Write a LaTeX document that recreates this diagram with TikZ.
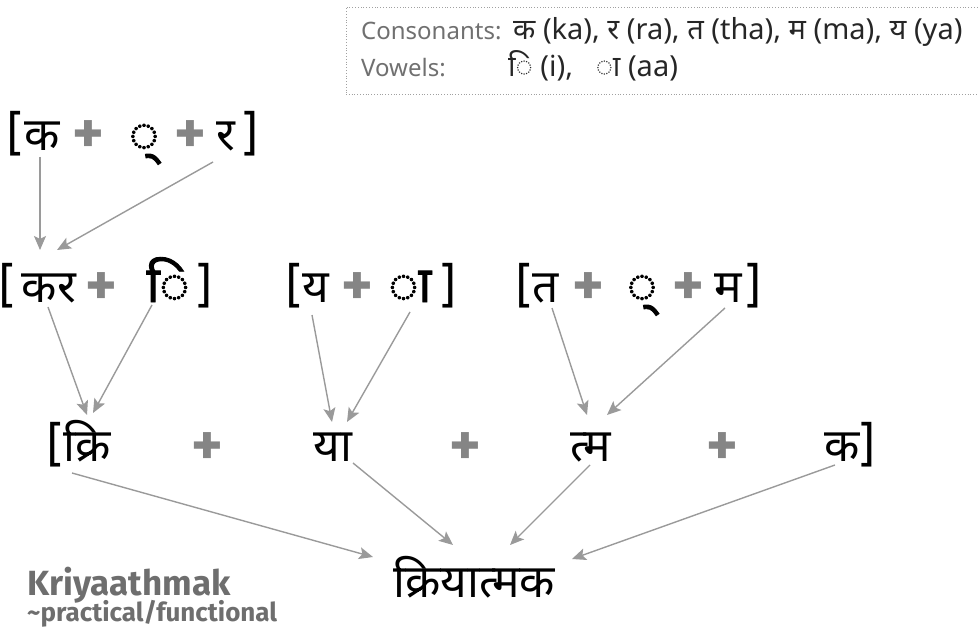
\documentclass[tikz,border=0pt]{standalone}
\usepackage{fontspec}
\setmainfont{Fira Sans}
\newfontfamily\dv[Script=Devanagari]{Noto Sans}
\newfontfamily\dvc[Script=Devanagari,FakeBold=1.8]{Noto Sans}
\usetikzlibrary{arrows.meta,calc}
\definecolor{arrgray}{HTML}{9A9A9A}
\definecolor{plusgray}{HTML}{858585}
\definecolor{labgray}{HTML}{6E6E6E}
\definecolor{leggray}{HTML}{707070}
\definecolor{boxgray}{HTML}{A0A0A0}
\tikzset{
  glyph/.style={anchor=base, inner sep=0pt, font=\dv\fontsize{46}{54}\selectfont, text=black},
  circ/.style={anchor=base, inner sep=0pt, font=\dvc\fontsize{50}{58}\selectfont, text=black},
  brk/.style={anchor=base, inner sep=0pt, font=\fontsize{48}{56}\selectfont, text=black},
  plus/.style={anchor=center, inner sep=0pt, font=\fontsize{60}{70}\selectfont\bfseries, text=plusgray},
  arr/.style={draw=arrgray, line width=1.4pt, -{Stealth[length=14pt,width=12pt,inset=3pt]}},
  leghead/.style={anchor=base west, inner sep=0pt, font=\dv\fontsize{24}{29}\selectfont, text=leggray},
  legtxt/.style={anchor=base west, inner sep=0pt, font=\dv\fontsize{29}{34}\selectfont, text=black!85},
}
\begin{document}
\begin{tikzpicture}[x=1pt,y=-1pt]
\useasboundingbox (0,0) rectangle (978,631);
% legend
\node (legbox) [draw=boxgray, dotted, line width=0.8pt, minimum width=632pt, minimum height=87pt, inner sep=0pt] at (662,50.5) {};
\node (leg1a) [leghead] at (361,40) {Consonants:};
\node (leg1b) [legtxt] at (513,40) {क (ka), र (ra), त (tha), म (ma), य (ya)};
\node (leg2a) [leghead] at (361,77) {Vowels:};
\node (leg2b) [legtxt] at (508,77) {◌ि (i),\ \ \ ◌ा (aa)};
% row 1
\node (lb1) [brk] at (15,151) {[};
\node (k1) [glyph] at (42,151) {क};
\node (p1) [plus] at (88,137) {+};
\node (h1) [circ] at (144,151) {◌्};
\node (p2) [plus] at (190,137) {+};
\node (r1) [glyph] at (226,151) {र};
\node (rb1) [brk] at (250,151) {]};
% row 2
\node (lb2) [brk] at (7,302) {[};
\node (kr) [glyph] at (49,302) {कर};
\node (p3) [plus] at (101,289) {+};
\node (i2) [circ] at (168,302) {◌ि};
\node (rb2) [brk] at (204,302) {]};
\node (lb3) [brk] at (294,302) {[};
\node (y2) [glyph] at (316,302) {य};
\node (p4) [plus] at (357,289) {+};
\node (aa2) [circ] at (410,302) {◌ा};
\node (rb3) [brk] at (448,302) {]};
\node (lb4) [brk] at (524,302) {[};
\node (t2) [glyph] at (546,302) {त};
\node (p5) [plus] at (588,289) {+};
\node (h2) [circ] at (642,302) {◌्};
\node (p6) [plus] at (688,289) {+};
\node (m2) [glyph] at (728,302) {म};
\node (rb4) [brk] at (753,302) {]};
% row 3
\node (lb5) [brk] at (55,461) {[};
\node (kri) [glyph] at (87,461) {क्रि};
\node (p7) [plus] at (207,449) {+};
\node (ya) [glyph] at (333,461) {या};
\node (p8) [plus] at (465,449) {+};
\node (tm) [glyph] at (591,461) {त्म};
\node (p9) [plus] at (722,449) {+};
\node (ka) [glyph] at (842,461) {क};
\node (rb5) [brk] at (867,461) {]};
% row 4
\node (word) [glyph] at (474,597) {क्रियात्मक};
\node (lab1) [anchor=base west, inner sep=0pt, font=\fontsize{35}{40}\selectfont\bfseries, text=labgray] at (27,595) {Kriyaathmak};
\node (lab2) [anchor=base west, inner sep=0pt, font=\fontsize{26}{30}\selectfont\bfseries, text=labgray] at (27,621) {\textasciitilde practical/functional};
% arrows row1 -> row2
\draw[arr] ($(k1.base)+(-2,6)$) -- ($(kr.base)+(-9,-52)$);
\draw[arr] ($(r1.base)+(-13,11)$) -- ($(kr.base)+(8,-52)$);
% row2 -> row3
\draw[arr] ($(kr.base)+(-1,5)$) -- ($(kri.base)+(0,-46)$);
\draw[arr] ($(i2.base)+(-16,3)$) -- ($(kri.base)+(6,-48)$);
\draw[arr] ($(y2.base)+(-4,13)$) -- ($(ya.base)+(-1,-39)$);
\draw[arr] ($(aa2.base)+(0,10)$) -- ($(ya.base)+(14,-39)$);
\draw[arr] ($(t2.base)+(6,6)$) -- ($(tm.base)+(-4,-46)$);
\draw[arr] ($(m2.base)+(-3,6)$) -- ($(tm.base)+(16,-46)$);
% row3 -> row4
\draw[arr] ($(kri.base)+(-15,12)$) -- ($(word.base)+(-101,-40)$);
\draw[arr] ($(ya.base)+(20,2)$) -- ($(word.base)+(-21,-52)$);
\draw[arr] ($(tm.base)+(-1,4)$) -- ($(word.base)+(36,-52)$);
\draw[arr] ($(ka.base)+(-7,4)$) -- ($(word.base)+(98,-38)$);
\end{tikzpicture}
\end{document}
